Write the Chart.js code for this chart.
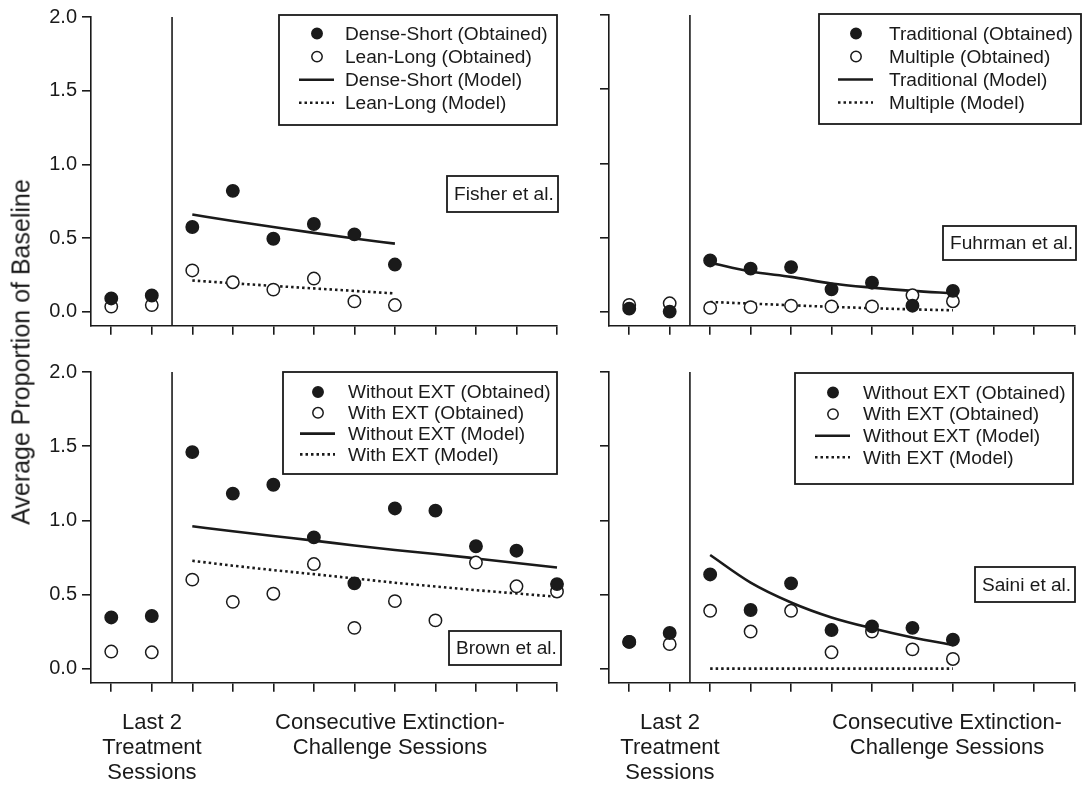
<!DOCTYPE html>
<html>
<head>
<meta charset="utf-8">
<script src="https://cdn.jsdelivr.net/npm/chart.js@4/dist/chart.umd.min.js"></script>
<style>
  html, body { margin:0; padding:0; background:#fff; }
  #wrap { position:relative; width:1082px; height:788px; overflow:hidden; background:#fff; }
  canvas { position:absolute; left:0; top:0; }
  .txt { position:absolute; font-family:'Liberation Sans', Arial, Helvetica, sans-serif; color:#1a1a1a; white-space:nowrap; }
  .cap { font-size:22px; line-height:25px; text-align:center; transform:translateX(-50%); }
  .ytitle { font-size:25px; transform:translate(-50%,-50%) rotate(-90deg); }
</style>
</head>
<body>
<div id="wrap">
  <canvas id="c1" width="1082" height="788"></canvas>
  <canvas id="c2" width="1082" height="788"></canvas>
  <canvas id="c3" width="1082" height="788"></canvas>
  <canvas id="c4" width="1082" height="788"></canvas>
  <div class="txt ytitle" style="left:21px; top:352px;">Average Proportion of Baseline</div>
  <div class="txt cap" style="left:152px; top:709px;">Last 2<br>Treatment<br>Sessions</div>
  <div class="txt cap" style="left:390px; top:709px;">Consecutive Extinction-<br>Challenge Sessions</div>
  <div class="txt cap" style="left:670px; top:709px;">Last 2<br>Treatment<br>Sessions</div>
  <div class="txt cap" style="left:947px; top:709px;">Consecutive Extinction-<br>Challenge Sessions</div>
</div>
<script>
// ---------- DATA ----------
const yTicks = [0, 0.5, 1.0, 1.5, 2.0];
const yTickLabels = ['0.0', '0.5', '1.0', '1.5', '2.0'];
const xTicks = [1, 2, 3, 4, 5, 6, 7, 8, 9, 10, 11, 12];
const phaseDivider = 2.5;      // between treatment and extinction sessions
const modelStart = 3;          // first extinction-challenge session

// Fisher et al.
const fisherLabels = ['Dense-Short (Obtained)', 'Lean-Long (Obtained)', 'Dense-Short (Model)', 'Lean-Long (Model)'];
const fisherDenseObt = [0.09, 0.11, 0.575, 0.82, 0.495, 0.595, 0.525, 0.32];
const fisherLeanObt  = [0.035, 0.045, 0.28, 0.20, 0.15, 0.225, 0.07, 0.045];
const fisherDenseMod = [0.66, 0.615, 0.575, 0.535, 0.497, 0.462];
const fisherLeanMod  = [0.212, 0.193, 0.175, 0.158, 0.141, 0.124];

// Fuhrman et al.
const fuhrmanLabels = ['Traditional (Obtained)', 'Multiple (Obtained)', 'Traditional (Model)', 'Multiple (Model)'];
const fuhrmanTradObt = [0.02, 0.0, 0.345, 0.29, 0.30, 0.15, 0.195, 0.04, 0.14];
const fuhrmanMultObt = [0.045, 0.056, 0.025, 0.03, 0.04, 0.035, 0.035, 0.11, 0.07];
const fuhrmanTradMod = [0.33, 0.27, 0.234, 0.19, 0.162, 0.14, 0.124];
const fuhrmanMultMod = [0.065, 0.054, 0.043, 0.032, 0.023, 0.015, 0.009];

// Brown et al.
const brownLabels = ['Without EXT (Obtained)', 'With EXT (Obtained)', 'Without EXT (Model)', 'With EXT (Model)'];
const brownWithoutObt = [0.345, 0.355, 1.46, 1.18, 1.24, 0.885, 0.575, 1.08, 1.065, 0.825, 0.795, 0.57];
const brownWithObt    = [0.115, 0.11, 0.60, 0.45, 0.505, 0.705, 0.275, 0.455, 0.325, 0.715, 0.555, 0.52];
const brownWithoutMod = [0.96, 0.926, 0.894, 0.863, 0.83, 0.80, 0.773, 0.743, 0.712, 0.682];
const brownWithMod    = [0.727, 0.694, 0.664, 0.637, 0.608, 0.579, 0.554, 0.529, 0.507, 0.484];

// Saini et al.
const sainiLabels = ['Without EXT (Obtained)', 'With EXT (Obtained)', 'Without EXT (Model)', 'With EXT (Model)'];
const sainiWithoutObt = [0.18, 0.24, 0.635, 0.395, 0.575, 0.26, 0.285, 0.275, 0.195];
const sainiWithObt    = [0.18, 0.165, 0.39, 0.25, 0.39, 0.11, 0.25, 0.13, 0.065];
const sainiWithoutMod = [0.766, 0.58, 0.446, 0.345, 0.272, 0.21, 0.16];
const sainiWithMod    = [0, 0, 0, 0, 0, 0, 0];

// ---------- STYLE / LAYOUT ----------
const FONT = "'Liberation Sans', Arial, Helvetica, sans-serif";
const INK = '#1a1a1a';
const Y_MIN = -0.095, Y_MAX = 2.0;
const AREA_H = 310.7;
const LEG_FONT = '19.1px ' + FONT;

const obtPts = arr => arr.map((v, i) => ({ x: i + 1, y: v }));
const modPts = arr => arr.map((v, i) => ({ x: i + modelStart, y: v }));

function makeDatasets(labels, filled, open, solid, dotted) {
  return [
    { label: labels[0], data: obtPts(filled), showLine: false, pointRadius: 6.2, pointBorderWidth: 1.5,
      pointBackgroundColor: INK, pointBorderColor: INK, clip: false, kind: 'filled' },
    { label: labels[1], data: obtPts(open), showLine: false, pointRadius: 6.2, pointBorderWidth: 1.5,
      pointBackgroundColor: '#fff', pointBorderColor: INK, clip: false, kind: 'open' },
    { label: labels[2], data: modPts(solid), pointRadius: 0, borderColor: INK, borderWidth: 2.6,
      cubicInterpolationMode: 'monotone', clip: false, kind: 'solid' },
    { label: labels[3], data: modPts(dotted), pointRadius: 0, borderColor: INK, borderWidth: 2.6,
      borderDash: [2.5, 3], borderCapStyle: 'butt', clip: false, kind: 'dotted' }
  ];
}

const panels = [
  { id: 'c1', left: 91, right: 557, top: 15, showY: true,
    ds: makeDatasets(fisherLabels, fisherDenseObt, fisherLeanObt, fisherDenseMod, fisherLeanMod),
    legend: { box: [279, 15, 557, 125], markerX: 317, textX: 345, rowY: 33.5, rowStep: 23.1 },
    study: { text: 'Fisher et al.', box: [447, 176, 558, 212] } },
  { id: 'c2', left: 609, right: 1075, top: 15, showY: false,
    ds: makeDatasets(fuhrmanLabels, fuhrmanTradObt, fuhrmanMultObt, fuhrmanTradMod, fuhrmanMultMod),
    legend: { box: [819, 14, 1081, 124], markerX: 856, textX: 889, rowY: 33.5, rowStep: 23 },
    study: { text: 'Fuhrman et al.', box: [943, 226, 1076, 260] } },
  { id: 'c3', left: 91, right: 557, top: 372, showY: true,
    ds: makeDatasets(brownLabels, brownWithoutObt, brownWithObt, brownWithoutMod, brownWithMod),
    legend: { box: [283, 372, 557, 474], markerX: 318, textX: 348, rowY: 392, rowStep: 20.8 },
    study: { text: 'Brown et al.', box: [449, 631, 561, 665] } },
  { id: 'c4', left: 609, right: 1075, top: 372, showY: false,
    ds: makeDatasets(sainiLabels, sainiWithoutObt, sainiWithObt, sainiWithoutMod, sainiWithMod),
    legend: { box: [795, 373, 1073, 484], markerX: 833, textX: 863, rowY: 392.5, rowStep: 21.6 },
    study: { text: 'Saini et al.', box: [975, 567, 1075, 602] } }
];

const decor = {
  id: 'decor',
  beforeDatasetsDraw(chart, args, opts) {
    const ctx = chart.ctx, a = chart.chartArea, xs = chart.scales.x;
    const px = xs.getPixelForValue(phaseDivider);
    ctx.save();
    ctx.strokeStyle = INK; ctx.lineWidth = 1.6;
    ctx.beginPath(); ctx.moveTo(px, a.top); ctx.lineTo(px, a.bottom); ctx.stroke();
    ctx.restore();
  },
  afterDraw(chart, args, opts) {
    const ctx = chart.ctx;
    const L = opts.legend, S = opts.study;
    ctx.save();
    // legend box
    ctx.fillStyle = '#fff';
    ctx.fillRect(L.box[0], L.box[1], L.box[2] - L.box[0], L.box[3] - L.box[1]);
    ctx.strokeStyle = INK; ctx.lineWidth = 1.8; ctx.setLineDash([]);
    ctx.strokeRect(L.box[0], L.box[1], L.box[2] - L.box[0], L.box[3] - L.box[1]);
    ctx.font = LEG_FONT; ctx.textBaseline = 'middle'; ctx.textAlign = 'left';
    chart.data.datasets.forEach((d, i) => {
      const y = L.rowY + i * L.rowStep;
      ctx.strokeStyle = INK; ctx.fillStyle = INK;
      if (d.kind === 'filled' || d.kind === 'open') {
        ctx.beginPath(); ctx.arc(L.markerX, y, 5.2, 0, Math.PI * 2);
        ctx.fillStyle = d.kind === 'filled' ? INK : '#fff';
        ctx.fill(); ctx.lineWidth = 1.5; ctx.setLineDash([]); ctx.stroke();
      } else {
        ctx.lineWidth = 2.6;
        ctx.setLineDash(d.kind === 'dotted' ? [2.5, 3] : []);
        ctx.beginPath(); ctx.moveTo(L.markerX - 18, y); ctx.lineTo(L.markerX + 17, y); ctx.stroke();
        ctx.setLineDash([]);
      }
      ctx.fillStyle = INK;
      ctx.fillText(d.label, L.textX, y + 1);
    });
    // study label box
    ctx.fillStyle = '#fff';
    ctx.fillRect(S.box[0], S.box[1], S.box[2] - S.box[0], S.box[3] - S.box[1]);
    ctx.strokeStyle = INK; ctx.lineWidth = 1.8;
    ctx.strokeRect(S.box[0], S.box[1], S.box[2] - S.box[0], S.box[3] - S.box[1]);
    ctx.fillStyle = INK; ctx.font = LEG_FONT;
    ctx.fillText(S.text, S.box[0] + 7, (S.box[1] + S.box[3]) / 2 + 1);
    ctx.restore();
  }
};

panels.forEach(p => {
  const W = 1082, H = 788;
  const yW = p.showY ? p.left : 12;
  const xH = 12;
  const bottom = p.top + AREA_H;
  new Chart(document.getElementById(p.id), {
    type: 'line',
    data: { datasets: p.ds },
    plugins: [decor],
    options: {
      responsive: false, animation: false, events: [],
      devicePixelRatio: 1,
      layout: { padding: { left: p.left - yW, right: W - p.right, top: p.top, bottom: H - bottom - xH } },
      plugins: {
        legend: { display: false }, tooltip: { enabled: false },
        decor: { legend: p.legend, study: p.study }
      },
      scales: {
        x: {
          type: 'linear', min: 0.5, max: 12,
          afterBuildTicks: s => { s.ticks = xTicks.map(v => ({ value: v })); },
          afterFit: s => { s.height = xH; },
          ticks: { display: false },
          grid: { drawOnChartArea: false, drawTicks: true, tickLength: 9, color: INK, lineWidth: 1.6 },
          border: { display: true, color: INK, width: 1.6 }
        },
        y: {
          type: 'linear', min: Y_MIN, max: Y_MAX,
          afterBuildTicks: s => { s.ticks = yTicks.map(v => ({ value: v })); },
          afterFit: s => { s.width = yW; },
          ticks: { display: p.showY, padding: 5, color: INK, font: { family: FONT, size: 20 },
                   callback: (v, i) => yTickLabels[i] },
          grid: { drawOnChartArea: false, drawTicks: true, tickLength: 9, color: INK, lineWidth: 1.6 },
          border: { display: true, color: INK, width: 1.6 }
        }
      }
    }
  });
});
</script>
</body>
</html>
